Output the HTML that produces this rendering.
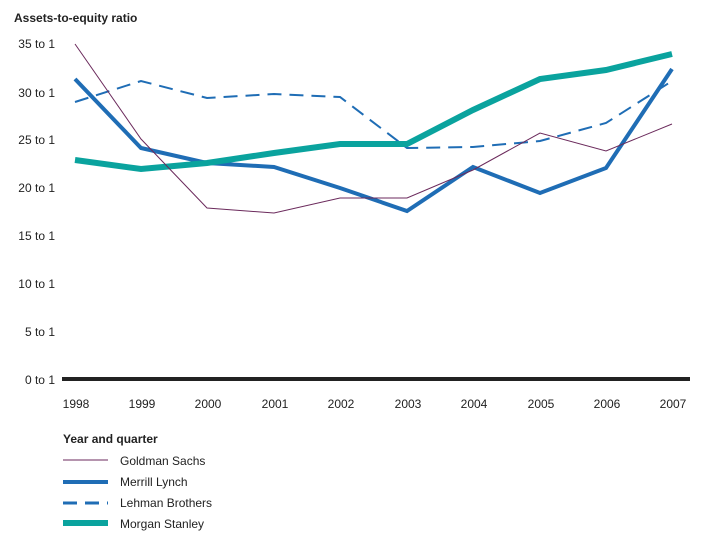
<!DOCTYPE html>
<html><head><style>body{margin:0;background:#fff}svg{display:block}text{font-family:"Liberation Sans",sans-serif;font-size:12px;fill:#222}</style></head>
<body><svg width="717" height="536" viewBox="0 0 717 536">
<text x="14" y="22" font-weight="bold">Assets-to-equity ratio</text>
<g text-anchor="end">
<text x="55" y="48">35 to 1</text><text x="55" y="97">30 to 1</text><text x="55" y="144">25 to 1</text><text x="55" y="192">20 to 1</text><text x="55" y="240">15 to 1</text><text x="55" y="288">10 to 1</text><text x="55" y="336">5 to 1</text><text x="55" y="384">0 to 1</text>
</g>
<line x1="62" y1="379" x2="690" y2="379" stroke="#222" stroke-width="4"/>
<g text-anchor="middle">
<text x="76" y="408">1998</text><text x="142" y="408">1999</text><text x="208" y="408">2000</text><text x="275" y="408">2001</text><text x="341" y="408">2002</text><text x="408" y="408">2003</text><text x="474" y="408">2004</text><text x="541" y="408">2005</text><text x="607" y="408">2006</text><text x="673" y="408">2007</text>
</g>
<polyline fill="none" stroke="#1f6db5" stroke-width="2" stroke-dasharray="14,8" points="75,102 141,81 207,98 274,94 340,97 407,148 473,147 540,141 606,123 672,81"/>
<polyline fill="none" stroke="#1f6db5" stroke-width="4" points="75,79 141,148 207,163 274,167 340,188 407,211 473,167 540,193 606,168 672,69"/>
<polyline fill="none" stroke="#0aa39e" stroke-width="6" points="75,160 141,169 207,163 274,153 340,144 407,144 473,110 540,79 606,70 672,54"/>
<polyline fill="none" stroke="#6b2a5c" stroke-width="1" points="75,44 141,139 207,208 274,213 340,198 407,198 473,170 540,133 606,151 672,124"/>
<text x="63" y="443" font-weight="bold">Year and quarter</text>
<line x1="63" y1="460" x2="108" y2="460" stroke="#6b2a5c" stroke-width="1"/>
<text x="120" y="465">Goldman Sachs</text>
<line x1="63" y1="482" x2="108" y2="482" stroke="#1f6db5" stroke-width="4"/>
<text x="120" y="486">Merrill Lynch</text>
<line x1="63" y1="503" x2="108" y2="503" stroke="#1f6db5" stroke-width="3" stroke-dasharray="14,8"/>
<text x="120" y="507">Lehman Brothers</text>
<line x1="63" y1="523" x2="108" y2="523" stroke="#0aa39e" stroke-width="6"/>
<text x="120" y="528">Morgan Stanley</text>
</svg></body></html>
